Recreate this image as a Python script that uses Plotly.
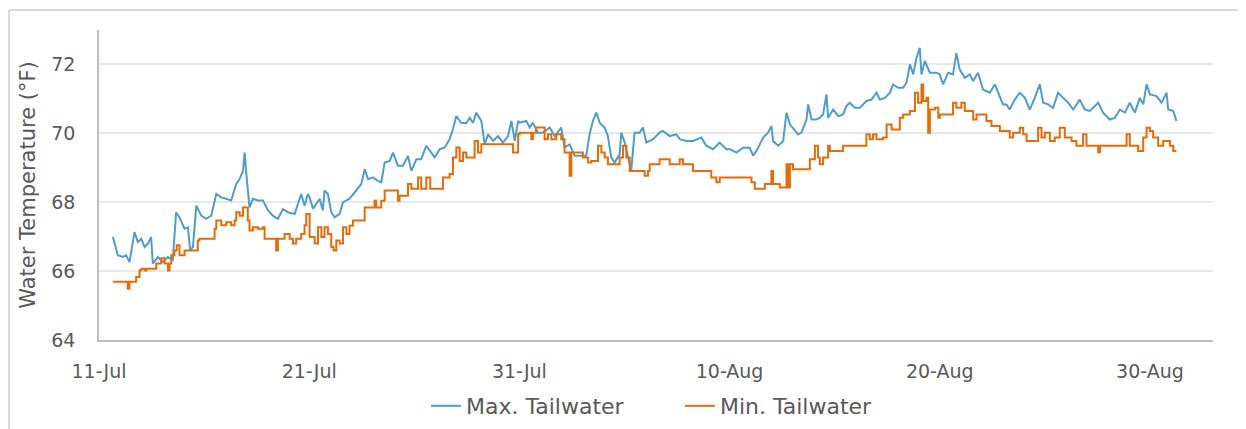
import pandas as pd
import plotly.graph_objects as go

# Day offsets (days since 11-Jul 00:00) and temperatures (°F)
max_day = [0.66, 0.90, 1.13, 1.29, 1.45, 1.69, 1.85, 2.01, 2.17, 2.33, 2.48, 2.56, 2.80, 3.04, 3.28, 3.51,
           3.67, 3.83, 4.07, 4.23, 4.34, 4.47, 4.63, 4.86, 5.10, 5.34, 5.58, 5.82, 6.05, 6.29, 6.53, 6.69,
           6.85, 6.93, 7.01, 7.16, 7.32, 7.56, 7.80, 8.04, 8.27, 8.51, 8.75, 8.99, 9.31, 9.62, 9.78, 9.94,
           10.02, 10.18, 10.50, 10.65, 10.73, 10.89, 11.05, 11.21, 11.45, 11.61, 11.92, 12.24, 12.48, 12.64,
           12.80, 13.03, 13.27, 13.43, 13.59, 13.83, 13.99, 14.22, 14.46, 14.70, 14.86, 15.10, 15.33, 15.57,
           15.73, 15.97, 16.21, 16.45, 16.68, 16.84, 17.00, 17.24, 17.48, 17.64, 17.79, 17.95, 18.19, 18.35,
           18.51, 18.75, 18.98, 19.22, 19.46, 19.62, 19.78, 19.94,
           20.01, 20.33, 20.49, 20.64, 20.88, 21.12, 21.44, 21.68, 21.99, 22.15, 22.39, 22.63, 22.95, 23.18,
           23.34, 23.50, 23.66, 23.82, 24.06, 24.21, 24.37, 24.53, 24.77, 24.85, 25.01, 25.17, 25.32, 25.48,
           25.72, 25.88, 26.04, 26.36, 26.67, 26.83, 27.15, 27.47, 27.63, 27.94, 28.26, 28.66, 28.89, 29.21,
           29.53, 29.85,
           30.01, 30.33, 30.64, 30.96, 31.12, 31.28, 31.60, 31.83, 31.99, 32.07, 32.31, 32.55, 32.71, 32.87,
           33.10, 33.26, 33.42, 33.66, 33.74, 33.90, 34.13, 34.29, 34.45, 34.61, 34.69, 34.93, 35.17, 35.40,
           35.56, 35.72, 35.96, 36.20, 36.51, 36.75, 36.99, 37.15, 37.39, 37.63, 37.78, 38.02, 38.26, 38.42,
           38.58, 38.74, 38.89, 39.05, 39.13, 39.29, 39.53, 39.85,
           40.00, 40.16, 40.40, 40.63, 40.79, 40.95, 41.19, 41.43, 41.59, 41.82, 42.06, 42.38, 42.62, 42.78,
           43.01, 43.17, 43.33, 43.57, 43.81, 44.05, 44.28, 44.52, 44.76, 44.92, 45.16, 45.39, 45.63, 45.87,
           46.11, 46.35, 46.66, 46.90, 47.14, 47.54, 47.77, 48.09, 48.33, 48.57, 48.81, 49.04, 49.28, 49.52,
           49.68, 49.84, 50.00, 50.31, 50.55, 50.79, 50.87, 51.11, 51.26]
max_temp = [66.99, 66.46, 66.41, 66.46, 66.26, 67.13, 66.84, 66.94, 66.70, 66.80, 66.99, 66.22, 66.41, 66.26, 66.41, 66.32,
            67.71, 67.56, 67.23, 67.27, 66.60, 66.70, 67.90, 67.61, 67.52, 67.61, 68.24, 68.14, 68.10, 68.05, 68.53, 68.67,
            68.91, 69.44, 68.82, 67.85, 68.10, 68.05, 68.05, 67.76, 67.61, 67.52, 67.80, 67.71, 67.66, 68.24, 67.90, 68.24,
            68.14, 67.81, 68.10, 67.76, 68.34, 68.24, 67.71, 67.56, 67.66, 68.00, 68.10, 68.34, 68.53, 68.96,
            68.67, 68.72, 68.62, 68.58, 69.15, 69.20, 69.44, 69.06, 69.06, 69.34, 68.91, 69.25, 69.25, 69.64,
            69.49, 69.30, 69.54, 69.59, 69.83, 70.12, 70.50, 70.30, 70.30, 70.45, 70.30, 70.60, 70.36, 69.68,
            69.97, 69.78, 69.92, 69.73, 69.92, 70.36, 69.78, 70.36,
            70.31, 70.36, 70.17, 70.31, 70.02, 70.02, 70.17, 69.92, 70.17, 69.59, 69.68, 69.35, 69.35, 69.35,
            69.97, 70.36, 70.60, 70.31, 70.17, 69.92, 69.30, 69.15, 69.39, 70.02, 69.73, 69.30, 68.91, 70.02,
            70.02, 70.17, 69.73, 69.83, 70.02, 70.07, 69.92, 69.97, 69.83, 69.78, 69.78, 69.88, 69.64, 69.54,
            69.73, 69.54,
            69.54, 69.44, 69.58, 69.58, 69.35, 69.49, 69.88, 70.02, 70.21, 69.78, 69.64, 69.78, 70.60, 70.26,
            70.07, 69.97, 70.02, 70.40, 70.84, 70.40, 70.40, 70.45, 70.55, 71.13, 70.45, 70.69, 70.50, 70.55,
            70.79, 70.89, 70.74, 70.74, 70.94, 70.98, 71.18, 70.98, 71.03, 71.18, 71.42, 71.32, 71.32, 71.47,
            72.00, 71.71, 72.19, 72.48, 71.71, 72.10, 71.76, 71.76,
            71.71, 71.42, 71.76, 71.71, 72.33, 71.85, 71.61, 71.71, 71.52, 71.76, 71.27, 71.18, 71.42, 71.18,
            70.84, 70.84, 70.69, 70.98, 71.18, 71.03, 70.69, 71.03, 71.42, 70.89, 70.84, 70.74, 71.18, 71.03,
            70.89, 70.69, 70.98, 70.69, 70.65, 70.89, 70.60, 70.40, 70.45, 70.69, 70.60, 70.89, 70.60, 71.03,
            70.84, 71.42, 71.13, 71.08, 70.89, 71.18, 70.69, 70.65, 70.36]

min_day = [0.66, 1.29, 1.37, 1.45, 1.74, 1.77, 1.90, 1.93, 2.01, 2.17, 2.25, 2.64, 2.72, 2.88, 2.96, 3.12,
           3.28, 3.36, 3.44, 3.59, 3.70, 3.83, 4.07, 4.62, 4.70, 4.78, 5.42, 5.50, 5.58, 5.82, 6.05, 6.29,
           6.45, 6.53, 6.69, 6.85, 7.01, 7.08, 7.16, 7.32, 7.56, 7.80, 7.88, 8.27, 8.43, 8.51, 8.83, 9.07,
           9.23, 9.38, 9.62, 9.78, 9.86, 10.02,
           10.10, 10.26, 10.42, 10.58, 10.73, 10.89, 11.05, 11.16, 11.29, 11.45, 11.61, 11.77, 11.92, 12.08,
           12.56, 12.64, 13.03, 13.11, 13.19, 13.43, 13.59, 14.07, 14.22, 14.30, 14.62, 14.70, 14.86, 15.10,
           15.18, 15.33, 15.57, 15.76, 16.21, 16.37, 16.68, 16.84, 17.00, 17.16, 17.32, 17.48, 17.80, 17.87,
           18.03, 18.19, 19.54, 19.70, 19.94,
           20.01, 20.49, 20.57, 20.64, 20.80, 21.04, 21.20, 21.36, 21.52, 21.76, 21.99, 22.15, 22.31, 22.39,
           22.47, 22.95, 23.02, 23.26, 23.42, 23.66, 23.74, 23.90, 24.06, 24.21, 24.69, 24.77, 24.93, 25.09,
           25.25, 25.88, 25.96, 26.12, 26.20, 26.51, 26.67, 26.99, 27.15, 27.47, 27.63, 27.78, 28.18, 28.26,
           28.97, 29.13, 29.37, 29.53,
           30.96, 31.04, 31.20, 31.60, 31.68, 31.91, 31.99, 32.07, 32.39, 32.63, 32.71, 32.79, 32.87, 33.02,
           33.66, 33.82, 34.06, 34.21, 34.29, 34.45, 34.61, 34.69, 34.77, 35.25, 35.40, 36.36, 36.51, 36.67,
           36.83, 36.99, 37.31, 37.47, 37.63, 37.71, 37.94, 38.10, 38.26, 38.58, 38.82, 38.97, 39.13, 39.21,
           39.37, 39.45, 39.53, 39.77, 39.93,
           40.00, 40.48, 40.63, 40.79, 41.03, 41.19, 41.51, 41.59, 41.75, 42.06, 42.22, 42.38, 42.46, 42.70,
           42.86, 43.17, 43.33, 43.49, 43.65, 43.81, 43.97, 44.13, 44.60, 44.68, 44.84, 45.00, 45.24, 45.47,
           45.71, 45.95, 46.27, 46.50, 46.82, 46.98, 47.30, 47.54, 47.62, 48.73, 48.89, 49.04, 49.36, 49.44,
           49.68, 49.84, 50.00, 50.15, 50.39, 50.63, 50.95, 51.11, 51.26]
min_temp = [65.69, 65.69, 65.49, 65.69, 65.69, 65.83, 65.83, 66.02, 66.07, 66.02, 66.07, 66.07, 66.22, 66.22, 66.37, 66.22,
            66.02, 66.22, 66.46, 66.60, 66.75, 66.46, 66.60, 66.60, 66.89, 66.94, 66.94, 67.23, 67.47, 67.33, 67.42, 67.33,
            67.47, 67.71, 67.61, 67.85, 67.85, 67.47, 67.18, 67.27, 67.23, 67.27, 66.94, 66.94, 66.60, 66.94, 67.08, 66.94,
            66.80, 66.94, 67.08, 67.33, 67.66, 66.99,
            66.99, 66.80, 67.27, 66.99, 67.27, 67.08, 66.70, 66.60, 66.89, 66.80, 67.27, 67.08, 67.32, 67.47,
            67.47, 67.85, 67.85, 68.04, 67.85, 68.04, 68.34, 68.34, 68.04, 68.19, 68.19, 68.53, 68.39, 68.39,
            68.72, 68.39, 68.72, 68.39, 68.39, 68.72, 68.82, 69.30, 69.59, 69.20, 69.44, 69.30, 69.30, 69.78,
            69.44, 69.68, 69.68, 69.44, 69.97,
            70.02, 70.02, 69.83, 70.02, 70.17, 70.17, 69.83, 69.97, 69.83, 69.97, 69.83, 69.44, 69.44, 68.77,
            69.44, 69.44, 69.30, 69.15, 69.20, 69.20, 69.64, 69.44, 69.30, 69.10, 69.10, 69.30, 69.64, 69.30,
            68.91, 68.91, 68.77, 68.91, 69.10, 69.10, 69.25, 69.25, 69.10, 69.10, 69.25, 69.10, 69.10, 68.91,
            68.91, 68.72, 68.58, 68.72,
            68.72, 68.58, 68.39, 68.39, 68.53, 68.53, 68.91, 68.53, 68.43, 68.43, 69.10, 68.43, 69.10, 68.96,
            68.96, 69.25, 69.64, 69.30, 69.10, 69.30, 69.30, 69.64, 69.49, 69.49, 69.64, 69.64, 69.97, 69.83,
            69.97, 69.83, 69.88, 70.26, 70.26, 70.11, 70.11, 70.45, 70.55, 70.65, 71.18, 70.89, 71.42, 70.94,
            71.03, 70.02, 70.69, 70.74, 70.45,
            70.55, 70.55, 70.89, 70.74, 70.89, 70.65, 70.65, 70.40, 70.55, 70.55, 70.36, 70.36, 70.21, 70.21,
            70.07, 70.07, 69.88, 70.02, 70.02, 70.16, 69.97, 69.78, 69.78, 70.16, 69.88, 70.02, 69.78, 69.88,
            70.16, 69.88, 69.78, 69.64, 69.97, 69.64, 69.64, 69.45, 69.64, 69.64, 69.97, 69.64, 69.64, 69.49,
            69.88, 70.16, 70.07, 69.88, 69.64, 69.78, 69.64, 69.49, 69.49]

tick_dates = ["2016-07-11", "2016-07-21", "2016-07-31", "2016-08-10", "2016-08-20", "2016-08-30"]
tick_text = ["11-Jul", "21-Jul", "31-Jul", "10-Aug", "20-Aug", "30-Aug"]

base = pd.Timestamp("2016-07-11")
max_x = base + pd.to_timedelta(max_day, unit="D")
min_x = base + pd.to_timedelta(min_day, unit="D")

FONT = "DejaVu Sans"
TXT = "#595959"

fig = go.Figure()
fig.add_trace(go.Scatter(x=max_x, y=max_temp, mode="lines", name="Max. Tailwater",
                         line=dict(color="#4F9DC9", width=2)))
fig.add_trace(go.Scatter(x=min_x, y=min_temp, mode="lines", name="Min. Tailwater",
                         line=dict(color="#E46C0A", width=2, shape="hv")))

fig.update_layout(
    width=1238, height=421,
    margin=dict(l=91, r=33, t=22, b=89, autoexpand=False),
    paper_bgcolor="white", plot_bgcolor="white",
    font=dict(family=FONT, color=TXT, size=18),
    showlegend=True,
    legend=dict(orientation="h", x=0.2935, xanchor="left", y=-0.213, yanchor="middle",
                font=dict(size=22, color=TXT, family=FONT),
                entrywidth=209, entrywidthmode="pixels", bgcolor="rgba(0,0,0,0)"),
    xaxis=dict(type="date", range=["2016-07-11", "2016-09-02"],
               tickvals=tick_dates, ticktext=tick_text, automargin=False,
               showgrid=False, showline=True, linecolor="#BFBFBF", linewidth=1.5,
               ticks="", ticklabelstandoff=13, zeroline=False,
               tickfont=dict(size=19, color=TXT, family=FONT)),
    yaxis=dict(range=[64, 73], tick0=64, dtick=2, automargin=False,
               showgrid=True, gridcolor="#E8E8E8", gridwidth=1.5,
               showline=True, linecolor="#BFBFBF", linewidth=1.5,
               ticks="", ticklabelstandoff=18, zeroline=False,
               tickfont=dict(size=19, color=TXT, family=FONT),
               title=dict(text="Water Temperature (°F)", font=dict(size=21, color=TXT, family=FONT),
                          standoff=10)),
    shapes=[
        dict(type="line", xref="paper", yref="paper", x0=-0.0808, x1=-0.0808, y0=1.0645, y1=-0.35,
             line=dict(color="#D9D9D9", width=2)),
        dict(type="line", xref="paper", yref="paper", x0=-0.0808, x1=1.05, y0=1.0645, y1=1.0645,
             line=dict(color="#D9D9D9", width=2)),
    ],
)

fig.write_html("out.html")
